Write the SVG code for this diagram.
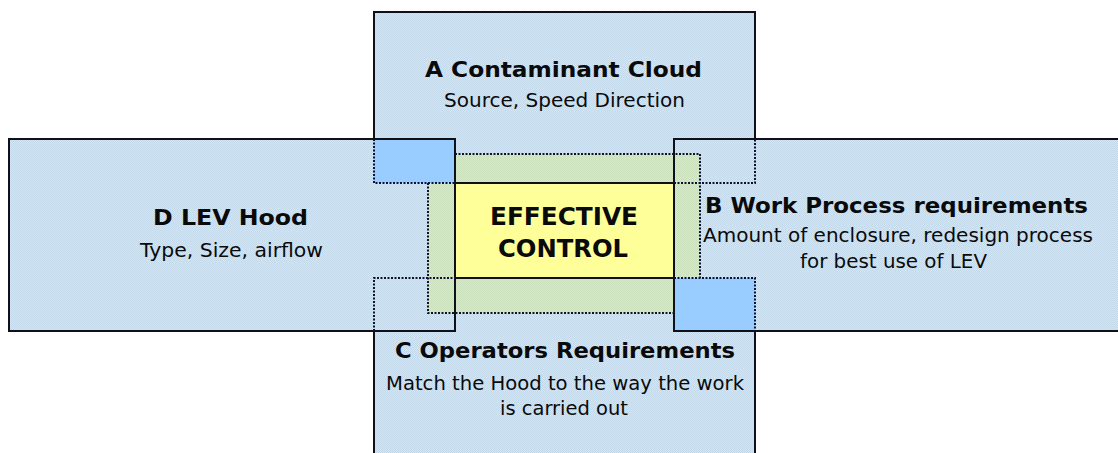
<svg xmlns="http://www.w3.org/2000/svg" width="1118" height="453" viewBox="0 0 1118 453">
<defs>
<pattern id="dotBlue" width="2" height="2" patternUnits="userSpaceOnUse">
<rect width="2" height="2" fill="#d3e6f3"/>
<rect width="1" height="1" fill="#c3d9ea"/>
<rect x="1" y="1" width="1" height="1" fill="#c3d9ea"/>
</pattern>
<pattern id="dotGreen" width="2" height="2" patternUnits="userSpaceOnUse">
<rect width="2" height="2" fill="#d9ebcc"/>
<rect width="1" height="1" fill="#c9dfbc"/>
<rect x="1" y="1" width="1" height="1" fill="#c9dfbc"/>
</pattern>
</defs>
<style>
.box{fill:url(#dotBlue);stroke:none}
.green{fill:url(#dotGreen);stroke:none}
.sq{fill:#99ccff;stroke:none}
.yel{fill:#ffff99;stroke:none}
.solid{fill:none;stroke:#101018;stroke-width:2}
.dot{fill:none;stroke:#101030;stroke-width:2;stroke-dasharray:2 1.5}
.t{font-family:"DejaVu Sans",Verdana,sans-serif;font-weight:bold;font-size:22px;fill:#0a0a0a}
.s{font-family:"DejaVu Sans",Verdana,sans-serif;font-size:19px;fill:#0a0a0a}
.e{font-family:"DejaVu Sans",Verdana,sans-serif;font-weight:bold;font-size:25px;fill:#0a0a0a}
</style>
<rect width="1118" height="453" fill="#ffffff"/>
<g id="nodeD">
<rect class="box" x="9" y="139" width="446" height="192"/>
<text class="t" x="153" y="225" textLength="155" lengthAdjust="spacingAndGlyphs">D LEV Hood</text>
<text class="s" x="140" y="257" textLength="183" lengthAdjust="spacingAndGlyphs">Type, Size, airflow</text>
</g>
<g id="nodeB">
<rect class="box" x="674" y="139" width="450" height="192"/>
<text class="t" x="705" y="213" textLength="383" lengthAdjust="spacingAndGlyphs">B Work Process requirements</text>
<text class="s" x="703" y="242" textLength="390" lengthAdjust="spacingAndGlyphs">Amount of enclosure, redesign process</text>
<text class="s" x="800" y="268" textLength="187" lengthAdjust="spacingAndGlyphs">for best use of LEV</text>
</g>
<g id="nodeA">
<rect class="box" x="374" y="12" width="381" height="171"/>
<text class="t" x="425" y="77" textLength="277" lengthAdjust="spacingAndGlyphs">A  Contaminant Cloud</text>
<text class="s" x="444" y="107" textLength="241" lengthAdjust="spacingAndGlyphs">Source, Speed Direction</text>
</g>
<g id="nodeC">
<rect class="box" x="374" y="278" width="381" height="180"/>
<text class="t" x="395" y="358" textLength="340" lengthAdjust="spacingAndGlyphs">C Operators Requirements</text>
<text class="s" x="386" y="390" textLength="358" lengthAdjust="spacingAndGlyphs">Match the Hood to the way the work</text>
<text class="s" x="500" y="415" textLength="128" lengthAdjust="spacingAndGlyphs">is carried out</text>
</g>
<g id="nodeCenter">
<rect class="green" x="428" y="154" width="272" height="159"/>
<rect class="sq" x="374" y="139" width="81" height="44"/>
<rect class="sq" x="674" y="278" width="81" height="53"/>
<rect class="yel" x="455" y="183" width="219" height="95"/>
<text class="e" x="490" y="225" textLength="148" lengthAdjust="spacingAndGlyphs">EFFECTIVE</text>
<text class="e" x="498" y="257" textLength="130" lengthAdjust="spacingAndGlyphs">CONTROL</text>
</g>
<g id="outlines">
<path class="solid" d="M374,139 V12 H755 V139"/>
<rect class="solid" x="9" y="139" width="446" height="192"/>
<path class="solid" d="M1125,139 H674 V331 H1125"/>
<path class="solid" d="M374,460 V331 M755,331 V460"/>
<rect class="solid" x="455" y="183" width="219" height="95"/>
<path class="dot" d="M374,139 V183 H455 M674,183 H755 V139"/>
<path class="dot" d="M374,331 V278 H455 M674,278 H755 V331"/>
<path class="dot" d="M455,154 H700 V278 M428,183 V313 H674"/>
</g>
</svg>
